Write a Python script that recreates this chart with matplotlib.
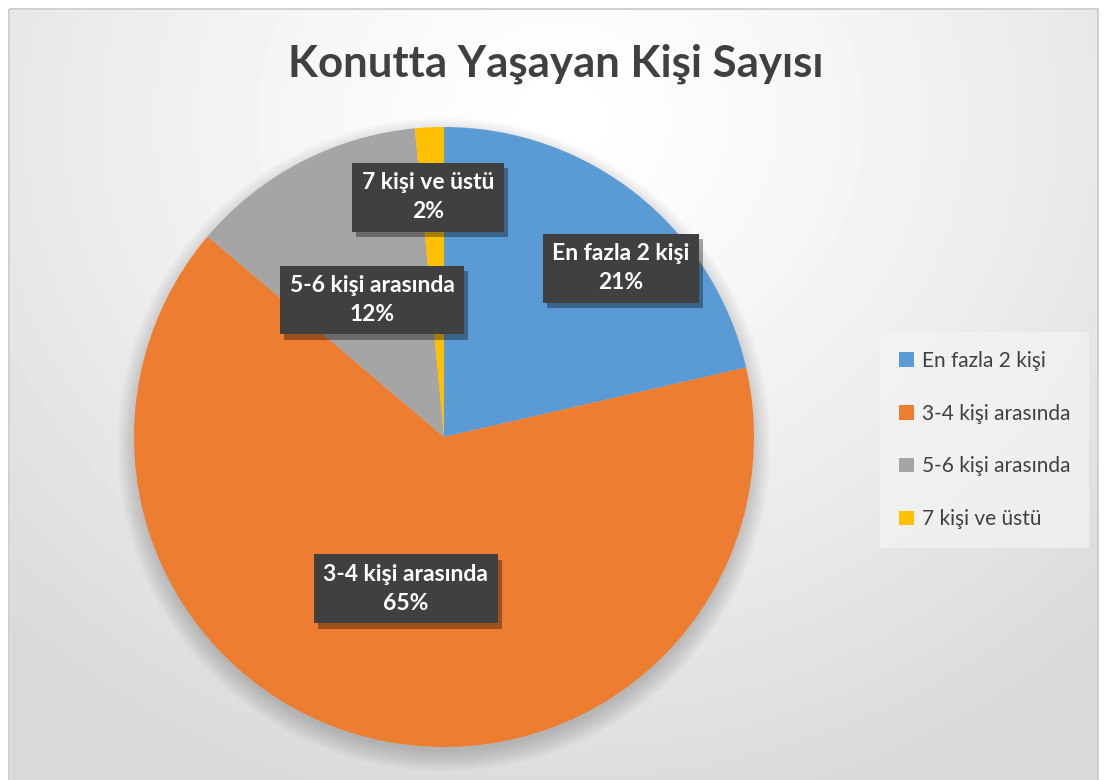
import numpy as np
import matplotlib.pyplot as plt
import matplotlib.patheffects as pe
from matplotlib.patches import Rectangle, Circle

categories = ["En fazla 2 kişi", "3-4 kişi arasında", "5-6 kişi arasında", "7 kişi ve üstü"]
shares = [21.4, 64.8, 12.3, 1.5]
pct_labels = ["21%", "65%", "12%", "2%"]
colors = ["#5B9BD5", "#ED7D31", "#A5A5A5", "#FFC000"]
title = "Konutta Yaşayan Kişi Sayısı"

# label box centres, in pie radius units
label_pos = [(0.571, 0.545), (-0.123, -0.490), (-0.232, 0.442), (-0.052, 0.774)]

plt.rcParams["font.family"] = ["Lato", "DejaVu Sans"]

W, H = 1106, 780
fig = plt.figure(figsize=(W / 100, H / 100), dpi=100)

# background with soft radial gradient
bg = fig.add_axes([0, 0, 1, 1], zorder=-10)
yy, xx = np.mgrid[0:H, 0:W]
d = np.hypot((xx - 560) / 1.1, yy - 120)
shade = 1.0 - 0.15 * np.clip(d / 720, 0, 1) ** 1.3
bg.imshow(shade, cmap="gray", vmin=0, vmax=1, extent=[0, W, H, 0], aspect="auto")
bg.set_xlim(0, W)
bg.set_ylim(H, 0)
bg.axis("off")
# white margin outside chart frame
bg.add_patch(Rectangle((0, 0), W, 9, color="white", zorder=2))
bg.add_patch(Rectangle((0, 0), 9, H, color="white", zorder=2))
bg.add_patch(Rectangle((1098, 0), W - 1098, H, color="white", zorder=2))
bg.add_patch(Rectangle((9, 9), 1089, H, fill=False, edgecolor="#c8c8c8", lw=1.2, zorder=3))

fig.text(556 / W, 1 - 64 / H, title, ha="center", va="center",
         fontsize=31.5, fontweight="bold", color="#404040")

cx, cy, r = 444, 437, 310
ax = fig.add_axes([(cx - r) / W, (H - cy - r) / H, 2 * r / W, 2 * r / H])
ax.set_xlim(-1, 1)
ax.set_ylim(-1, 1)
ax.axis("off")

# soft shadow under the pie
for i in range(10):
    ax.add_patch(Circle((0.0, -0.025), 0.99 + i * 0.007, color="black",
                        alpha=0.02, lw=0, zorder=0, clip_on=False))

wedges, _ = ax.pie(shares, colors=colors, startangle=90, counterclock=False,
                   radius=1.0, wedgeprops=dict(linewidth=0))
for w in wedges:
    w.set_zorder(2)
    w.set_clip_on(False)
ax.set_xlim(-1, 1)
ax.set_ylim(-1, 1)

for cat, pct, (lx, ly) in zip(categories, pct_labels, label_pos):
    t = ax.text(lx, ly, f"{cat}\n{pct}", ha="center", va="center", fontsize=16.5,
                fontweight="bold", color="white", linespacing=1.45, zorder=4,
                bbox=dict(boxstyle="square,pad=0.42", fc="#404040", ec="none"))
    t.get_bbox_patch().set_path_effects([
        pe.SimplePatchShadow(offset=(3, -4), shadow_rgbFace="black", alpha=0.35),
        pe.Normal()])

handles = [Rectangle((0, 0), 1, 1, fc=c, ec="none") for c in colors]
leg = fig.legend(handles, categories, loc="center left",
                 bbox_to_anchor=(876 / W, 1 - 440 / H), frameon=True,
                 fontsize=15, labelspacing=1.58, handlelength=0.7,
                 handleheight=0.7, handletextpad=0.4, borderpad=0.6,
                 labelcolor="#404040")
leg.get_frame().set_facecolor("#f4f4f4")
leg.get_frame().set_alpha(0.7)
leg.get_frame().set_edgecolor("none")
leg.get_frame().set_boxstyle("square")

fig.savefig("out.png", dpi=100)
